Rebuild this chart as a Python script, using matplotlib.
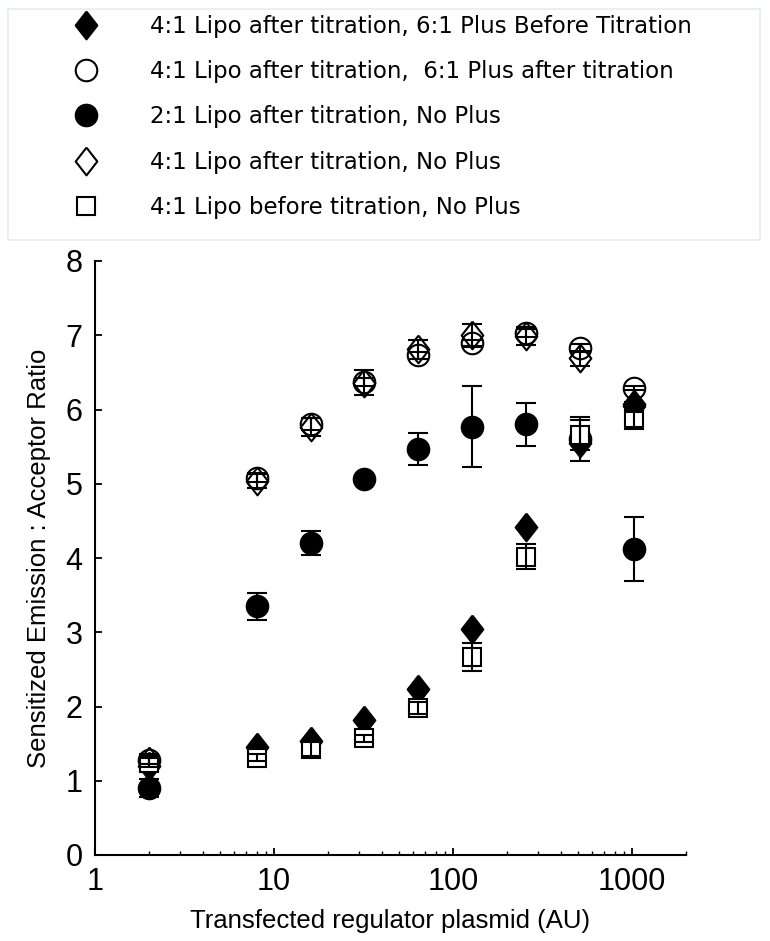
import matplotlib.pyplot as plt
import numpy as np
from matplotlib.lines import Line2D
from matplotlib.patches import Rectangle
from matplotlib.ticker import FixedLocator, NullFormatter, FixedFormatter

plt.rcParams['font.family'] = ['Liberation Sans', 'DejaVu Sans']

# transfected regulator plasmid (AU)
plasmid = [2, 8, 16, 32, 64, 128, 256, 512, 1024]

# 4:1 Lipo after titration, 6:1 Plus Before Titration (no visible error bars)
plus_before = [1.20, 1.45, 1.54, 1.82, 2.23, 3.04, 4.42, 5.55, 6.07]

# 4:1 Lipo after titration, 6:1 Plus after titration
plus_after = [1.28, 5.08, 5.80, 6.37, 6.73, 6.89, 7.03, 6.83, 6.29]
plus_after_err = [0.05, 0.05, 0.08, 0.05, 0.05, 0.05, 0.05, 0.05, 0.03]

# 2:1 Lipo after titration, No Plus
two_one = [0.90, 3.35, 4.20, 5.07, 5.47, 5.77, 5.80, 5.60, 4.12]
two_one_err = [0.12, 0.18, 0.16, 0.03, 0.22, 0.54, 0.29, 0.30, 0.43]

# 4:1 Lipo after titration, No Plus
four_after = [1.27, 5.04, 5.76, 6.36, 6.81, 7.00, 6.99, 6.69, 6.05]
four_after_err = [0.05, 0.10, 0.12, 0.17, 0.13, 0.15, 0.12, 0.10, 0.05]

# 4:1 Lipo before titration, No Plus
four_before = [1.24, 1.31, 1.43, 1.57, 1.98, 2.67, 4.02, 5.66, 5.86]
four_before_err = [0.06, 0.05, 0.09, 0.05, 0.08, 0.19, 0.17, 0.20, 0.10]

labels = ['4:1 Lipo after titration, 6:1 Plus Before Titration',
          '4:1 Lipo after titration,  6:1 Plus after titration',
          '2:1 Lipo after titration, No Plus',
          '4:1 Lipo after titration, No Plus',
          '4:1 Lipo before titration, No Plus']

diamond = [(0, 1), (0.78, 0), (0, -1), (-0.78, 0), (0, 1)]

# marker style per series, in legend order
styles = [
    dict(marker=diamond, ms=20, mfc='black', mec='black', z=3),
    dict(marker='o', ms=15.5, mfc='none', mec='black', z=4),
    dict(marker='o', ms=15.5, mfc='black', mec='black', z=3),
    dict(marker=diamond, ms=20, mfc='none', mec='black', z=4),
    dict(marker='s', ms=12.8, mfc='white', mec='black', z=5),
]
series = [(plus_before, None), (plus_after, plus_after_err),
          (two_one, two_one_err), (four_after, four_after_err),
          (four_before, four_before_err)]

fig = plt.figure(figsize=(7.7, 9.41), dpi=100)
ax = fig.add_axes([95 / 770, 1 - 855 / 941, 591 / 770, 594 / 941])

handles = []
for (vals, err), st in zip(series, styles):
    ax.plot(plasmid, vals, linestyle='none', marker=st['marker'], markersize=st['ms'],
            markerfacecolor=st['mfc'], markeredgecolor=st['mec'], markeredgewidth=1.5,
            zorder=st['z'])
    if err is not None:
        ax.errorbar(plasmid, vals, yerr=err, fmt='none', ecolor='black', elinewidth=1.5,
                    capsize=7.5, capthick=1.5, zorder=6)
    handles.append(Line2D([], [], linestyle='none', marker=st['marker'], markersize=st['ms'],
                          markerfacecolor=st['mfc'], markeredgecolor=st['mec'],
                          markeredgewidth=1.5))

ax.set_xscale('log')
ax.set_xlim(1, 2000)
ax.set_ylim(0, 8)
ax.xaxis.set_major_locator(FixedLocator([1, 10, 100, 1000]))
ax.xaxis.set_major_formatter(FixedFormatter(['1', '10', '100', '1000']))
minors = [m * 10 ** k for k in range(4) for m in range(2, 10) if m * 10 ** k <= 2000]
ax.xaxis.set_minor_locator(FixedLocator(minors))
ax.xaxis.set_minor_formatter(NullFormatter())
ax.set_yticks(range(0, 9))

for side in ['top', 'right']:
    ax.spines[side].set_visible(False)
for side in ['left', 'bottom']:
    ax.spines[side].set_linewidth(1.5)

ax.tick_params(which='major', direction='in', length=5, width=1.3, labelsize=22, pad=9)
ax.tick_params(which='minor', direction='in', length=3, width=1.0)

ax.set_xlabel('Transfected regulator plasmid (AU)', fontsize=18.5, labelpad=8)
ax.set_ylabel('Sensitized Emission : Acceptor Ratio', fontsize=18.5, labelpad=10)

# legend box across the top
fig.patches.append(Rectangle((8 / 770, 1 - 240 / 941), 752 / 770, 231 / 941,
                             transform=fig.transFigure, facecolor='white',
                             edgecolor='#e4eeee', linewidth=1.2, zorder=0))
fig.legend(handles, labels, loc='upper left', bbox_to_anchor=(63 / 770, 1 - 15 / 941),
           frameon=False, prop={'family': 'DejaVu Sans', 'size': 16.5},
           handlelength=2.0, handletextpad=1.8, labelspacing=0.97,
           borderpad=0, borderaxespad=0, numpoints=1)

fig.savefig('out.png', dpi=100)
